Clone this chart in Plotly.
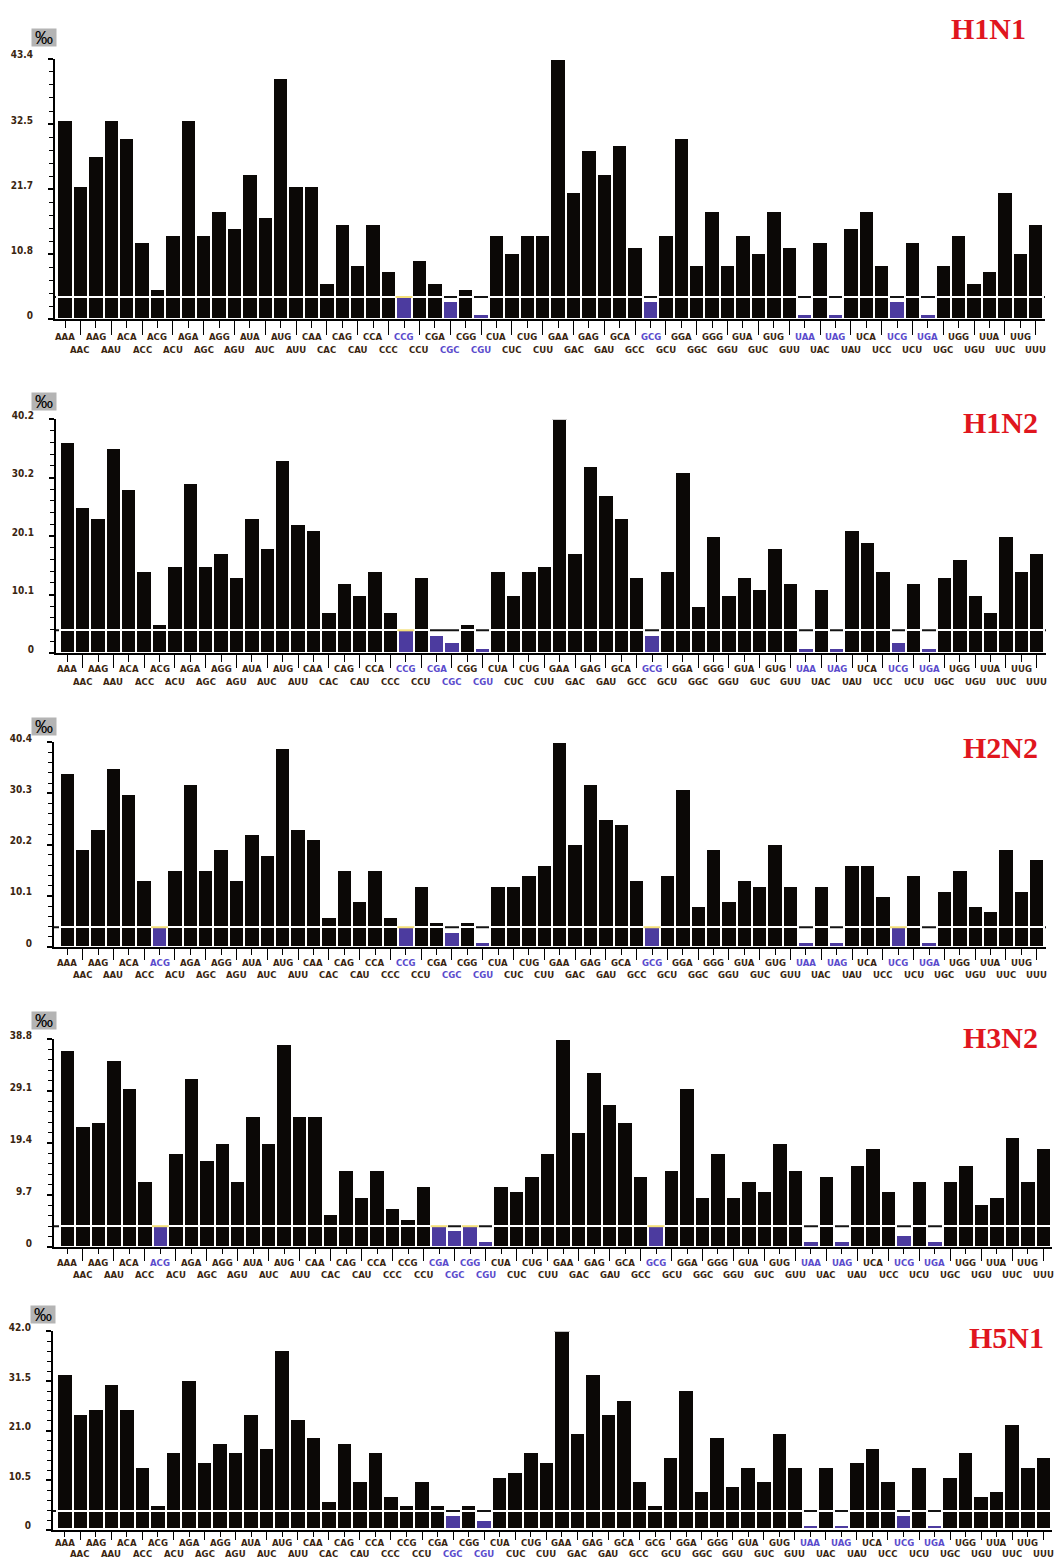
import plotly.graph_objects as go

# Codon usage (per mille) of influenza A subtypes
CODONS = [
    "AAA", "AAC", "AAG", "AAU", "ACA", "ACC", "ACG", "ACU",
    "AGA", "AGC", "AGG", "AGU", "AUA", "AUC", "AUG", "AUU",
    "CAA", "CAC", "CAG", "CAU", "CCA", "CCC", "CCG", "CCU",
    "CGA", "CGC", "CGG", "CGU", "CUA", "CUC", "CUG", "CUU",
    "GAA", "GAC", "GAG", "GAU", "GCA", "GCC", "GCG", "GCU",
    "GGA", "GGC", "GGG", "GGU", "GUA", "GUC", "GUG", "GUU",
    "UAA", "UAC", "UAG", "UAU", "UCA", "UCC", "UCG", "UCU",
    "UGA", "UGC", "UGG", "UGU", "UUA", "UUC", "UUG", "UUU",
]

SUBTYPES = ["H1N1", "H1N2", "H2N2", "H3N2", "H5N1"]

H1N1 = [33.2, 22.2, 27.2, 33.2, 30.2, 12.9, 5.0, 14.0,
        33.2, 14.0, 18.1, 15.2, 24.2, 17.0, 40.3, 22.2,
        22.2, 6.1, 15.9, 9.1, 15.9, 8.0, 3.7, 9.9,
        6.1, 3.0, 5.0, 0.9, 14.0, 11.0, 14.0, 14.0,
        43.4, 21.2, 28.3, 24.2, 29.1, 12.1, 3.0, 14.0,
        30.2, 9.1, 18.1, 9.1, 14.0, 11.0, 18.1, 12.1,
        0.9, 12.9, 0.9, 15.2, 18.1, 9.1, 3.0, 12.9,
        0.9, 9.1, 14.0, 6.1, 8.0, 21.2, 11.0, 15.9]

H1N2 = [36.2, 25.1, 23.1, 35.2, 28.2, 14.1, 5.0, 15.0,
        29.2, 15.0, 17.1, 13.0, 23.1, 18.1, 33.2, 22.1,
        21.1, 7.0, 12.0, 10.0, 14.1, 7.0, 3.9, 13.0,
        3.0, 1.9, 5.0, 0.9, 14.1, 10.0, 14.1, 15.0,
        40.2, 17.1, 32.2, 27.2, 23.1, 13.0, 3.0, 14.1,
        31.1, 8.0, 20.1, 10.0, 13.0, 11.0, 18.1, 12.0,
        0.9, 11.0, 0.9, 21.1, 19.1, 14.1, 1.9, 12.0,
        0.9, 13.0, 16.1, 10.0, 7.0, 20.1, 14.1, 17.1]

H2N2 = [34.3, 19.3, 23.3, 35.2, 30.2, 13.2, 3.9, 15.2,
        32.2, 15.2, 19.3, 13.2, 22.3, 18.2, 39.3, 23.3,
        21.3, 6.0, 15.2, 9.1, 15.2, 6.0, 3.9, 12.1,
        5.0, 3.0, 5.0, 1.0, 12.1, 12.1, 14.2, 16.2,
        40.4, 20.3, 32.2, 25.3, 24.3, 13.2, 3.9, 14.2,
        31.2, 8.1, 19.3, 9.1, 13.2, 12.1, 20.3, 12.1,
        1.0, 12.1, 1.0, 16.2, 16.2, 10.1, 3.9, 14.2,
        1.0, 11.1, 15.2, 8.1, 7.0, 19.3, 11.1, 17.3]

H3N2 = [36.8, 22.5, 23.4, 34.9, 29.7, 12.3, 3.9, 17.5,
        31.6, 16.3, 19.5, 12.3, 24.5, 19.5, 37.8, 24.5,
        24.5, 6.2, 14.3, 9.4, 14.3, 7.2, 5.2, 11.4,
        3.9, 3.2, 3.9, 1.2, 11.4, 10.4, 13.3, 17.5,
        38.8, 21.5, 32.6, 26.7, 23.4, 13.3, 3.9, 14.3,
        29.7, 9.4, 17.5, 9.4, 12.3, 10.4, 19.5, 14.3,
        1.2, 13.3, 1.2, 15.3, 18.5, 10.4, 2.2, 12.3,
        1.2, 12.3, 15.3, 8.1, 9.4, 20.5, 12.3, 18.5]

H5N1 = [32.8, 24.5, 25.5, 30.7, 25.5, 13.3, 5.2, 16.4,
        31.7, 14.3, 18.4, 16.4, 24.5, 17.3, 37.9, 23.4,
        19.5, 6.1, 18.4, 10.3, 16.4, 7.1, 5.2, 10.3,
        5.2, 3.1, 5.2, 2.0, 11.2, 12.2, 16.4, 14.3,
        42.0, 20.5, 32.8, 24.5, 27.4, 10.3, 5.2, 15.4,
        29.6, 8.2, 19.5, 9.2, 13.3, 10.3, 20.5, 13.3,
        0.9, 13.3, 0.9, 14.3, 17.3, 10.3, 3.1, 13.3,
        0.9, 11.2, 16.4, 7.1, 8.2, 22.4, 13.3, 15.4]

# low-usage cut-off line of each panel
THRESHOLDS = [3.7, 3.9, 3.9, 3.9, 4.0]

# y tick labels (quarters of the panel maximum)
YTICK_TEXT = [
    ["0", "10.8", "21.7", "32.5", "43.4"],
    ["0", "10.1", "20.1", "30.2", "40.2"],
    ["0", "10.1", "20.2", "30.3", "40.4"],
    ["0", "9.7", "19.4", "29.1", "38.8"],
    ["0", "10.5", "21.0", "31.5", "42.0"],
]

VALUES = [H1N1, H1N2, H2N2, H3N2, H5N1]

# ---- page geometry (pixels) ----
W, H = 1057, 1562
GEOM = [
    # x-domain px, x-range, zero px, top px, permille box centre, title centre, label rows, tick lengths
    dict(xd=(55, 1045), xr=(-0.65, 63.6), y0=311.7, y1=49.3, pm=(44, 28), tt=(988, 19), rows=(17, 30), tl=(7, 14)),
    dict(xd=(56, 1046), xr=(-0.73, 63.6), y0=648.0, y1=412.3, pm=(44, 395), tt=(1000, 416), rows=(15, 28), tl=(7, 13)),
    dict(xd=(54, 1046), xr=(-0.86, 63.6), y0=944.3, y1=737.7, pm=(44, 722), tt=(1000, 743), rows=(15, 27), tl=(6, 11)),
    dict(xd=(54, 1052), xr=(-0.86, 63.56), y0=1246.7, y1=1037.0, pm=(44, 1018.5), tt=(1000, 1035), rows=(15.5, 27), tl=(5, 12)),
    dict(xd=(53, 1052), xr=(-0.76, 63.56), y0=1531.7, y1=1331.7, pm=(43, 1314.5), tt=(1006, 1338), rows=(13, 24), tl=(5, 8)),
]

BAR_BLACK = "#0b0806"
BAR_BLUE = "#4c3b9f"
LABEL_DARK = "#3a2510"
LABEL_BLUE = "#5a4bcc"
TITLE_RED = "#e0161e"
NARROW = "Liberation Sans Narrow, Arial Narrow, DejaVu Sans Condensed, Liberation Sans, sans-serif"


def px_x(v):
    return v / W


def px_y(v):
    return 1 - v / H


fig = go.Figure()
annotations = []
shapes = []
layout_axes = {}
idx = list(range(len(CODONS)))

for k, (name, vals, thr, yt, g) in enumerate(zip(SUBTYPES, VALUES, THRESHOLDS, YTICK_TEXT, GEOM), start=1):
    xa = "x" if k == 1 else f"x{k}"
    ya = "y" if k == 1 else f"y{k}"
    low = [v <= thr for v in vals]

    # lower segment (up to the cut-off) and upper segment of every bar
    base = [min(v, thr) for v in vals]
    upper = [None if lo else v - thr for v, lo in zip(vals, low)]
    outline = dict(color="white", width=2.2)
    fig.add_trace(go.Bar(
        x=idx, y=base, width=1, xaxis=xa, yaxis=ya, showlegend=False,
        marker=dict(color=[BAR_BLUE if lo else BAR_BLACK for lo in low], line=outline),
        hovertext=CODONS,
    ))
    fig.add_trace(go.Bar(
        x=idx, y=upper, width=1, xaxis=xa, yaxis=ya, showlegend=False,
        marker=dict(color=BAR_BLACK, line=outline), hovertext=CODONS,
    ))

    # pale cap on low bars that sit right at the cut-off
    at_cut = [i for i, v in enumerate(vals) if abs(v - thr) < 1e-9]
    if at_cut:
        fig.add_trace(go.Scatter(
            x=at_cut, y=[vals[i] for i in at_cut], mode="markers", xaxis=xa, yaxis=ya,
            showlegend=False, hoverinfo="skip",
            marker=dict(symbol="line-ew", size=12, line=dict(color="#f4e07a", width=2)),
        ))

    # cut-off line, behind the bars
    shapes.append(dict(
        type="line", xref=f"{xa} domain", x0=0, x1=1, yref=ya, y0=thr, y1=thr,
        line=dict(color="#141414", width=2), layer="below",
    ))

    ymax = max(vals)
    evens = idx[0::2]
    odds = idx[1::2]
    layout_axes["xaxis" if k == 1 else f"xaxis{k}"] = dict(
        domain=[px_x(g["xd"][0]), px_x(g["xd"][1])], range=list(g["xr"]), anchor=ya,
        showgrid=False, zeroline=False, showline=True, linecolor="black", linewidth=2,
        ticks="outside", tickmode="array", tickvals=odds, ticklen=g["tl"][1],
        tickwidth=1.4, tickcolor="black", showticklabels=False,
        minor=dict(tickmode="array", tickvals=evens, ticks="outside",
                   ticklen=g["tl"][0], tickwidth=1.4, tickcolor="black"),
    )
    layout_axes["yaxis" if k == 1 else f"yaxis{k}"] = dict(
        domain=[px_y(g["y0"]), px_y(g["y1"])], range=[0, ymax], anchor=xa,
        showgrid=False, zeroline=False, showline=True, linecolor="black", linewidth=2,
        ticks="outside", tickmode="array", tickvals=[ymax * q / 4 for q in range(5)],
        ticktext=yt, ticklen=5, tickwidth=1.5, tickcolor="black",
        ticklabelstandoff=13, ticklabelshift=-4,
        tickfont=dict(family=NARROW, size=10, color=LABEL_DARK, weight="bold"),
        minor=dict(tickmode="linear", tick0=0, dtick=ymax / 20, ticks="outside",
                   ticklen=4, tickwidth=1.3, tickcolor="black"),
    )

    # two staggered rows of codon labels
    for i, (cod, lo) in enumerate(zip(CODONS, low)):
        annotations.append(dict(
            text=cod, xref=xa, yref=ya, x=i, y=0, showarrow=False,
            xanchor="center", yanchor="middle",
            yshift=-(g["rows"][0] if i % 2 == 0 else g["rows"][1]),
            font=dict(family=NARROW, size=9.5, weight="bold",
                      color=LABEL_BLUE if lo else LABEL_DARK),
        ))

    # per-mille unit badge
    annotations.append(dict(
        text="‰", xref="paper", yref="paper", x=px_x(g["pm"][0]), y=px_y(g["pm"][1]),
        showarrow=False, xanchor="center", yanchor="middle",
        width=24, height=17, bgcolor="#b4b4b4", borderpad=0,
        font=dict(family="Liberation Sans", size=18, color="black"),
    ))

    # subtype title
    annotations.append(dict(
        text=name, xref="paper", yref="paper", x=px_x(g["tt"][0]), y=px_y(g["tt"][1]),
        showarrow=False, xanchor="center", yanchor="middle",
        font=dict(family="Liberation Serif", size=30, color=TITLE_RED, weight="bold"),
    ))

fig.update_layout(
    width=W, height=H, margin=dict(l=0, r=0, t=0, b=0),
    paper_bgcolor="white", plot_bgcolor="white",
    barmode="stack", bargap=0, showlegend=False,
    annotations=annotations, shapes=shapes,
    **layout_axes,
)

fig.write_html("out.html")
